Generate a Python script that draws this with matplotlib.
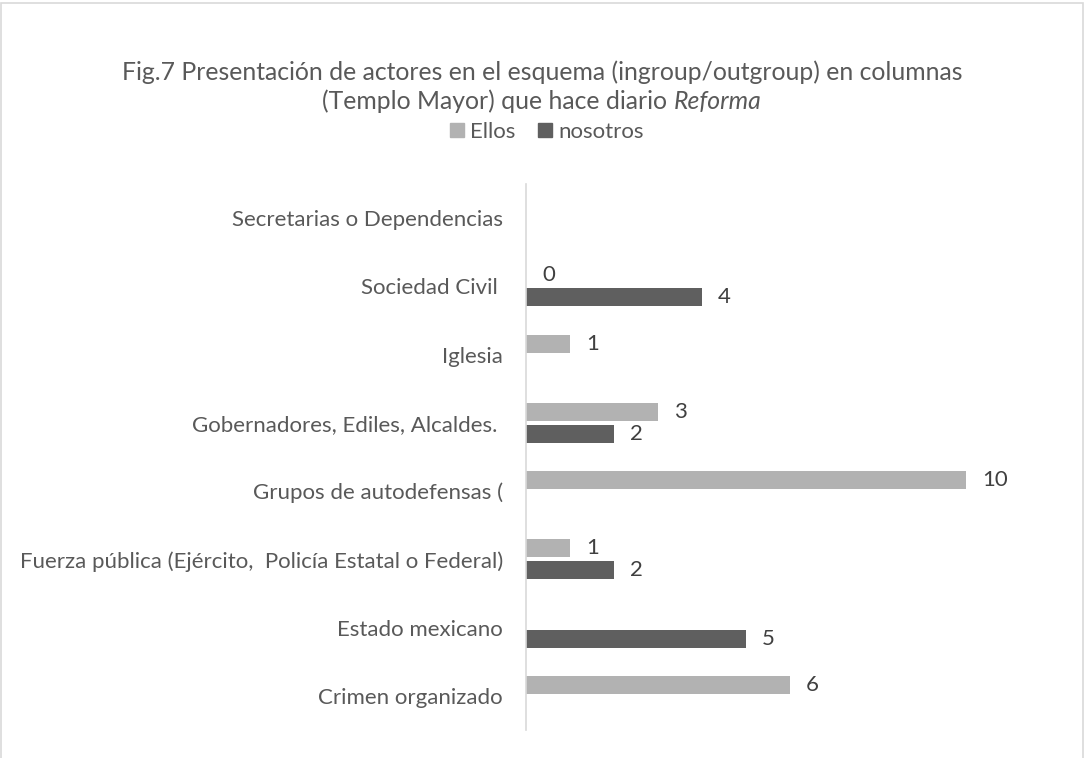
import matplotlib
matplotlib.use("Agg")
from matplotlib import pyplot as plt
from matplotlib.patches import Rectangle
from matplotlib.offsetbox import TextArea, HPacker, AnchoredOffsetbox

plt.rcParams['font.family'] = ['Lato', 'DejaVu Sans']

## data (bottom to top)
categories = ["Crimen organizado",
              "Estado mexicano",
              "Fuerza pública (Ejército,  Policía Estatal o Federal)",
              "Grupos de autodefensas (",
              "Gobernadores, Ediles, Alcaldes. ",
              "Iglesia",
              "Sociedad Civil ",
              "Secretarias o Dependencias"]
ellos = [6, None, 1, 10, 3, 1, 0, None]
nosotros = [None, 5, 2, None, 2, None, 4, None]

c_ellos = "#B2B2B2"
c_nos = "#5F5F5F"
txt = "#595959"
fs = 16

fig = plt.figure(figsize=(10.84, 7.58), dpi=100)
ax = fig.add_axes([526 / 1084, 1 - 730 / 758, 528 / 1084, 546 / 758])

off = 0.162
h = 0.265
for i in range(len(categories)):
    if ellos[i] is not None:
        ax.barh(i + off, ellos[i], height=h, color=c_ellos)
        ax.annotate(str(ellos[i]), (ellos[i], i + off), xytext=(11.5, 0),
                    textcoords="offset points", va="center", ha="left",
                    fontsize=fs, color="#404040")
    if nosotros[i] is not None:
        ax.barh(i - off, nosotros[i], height=h, color=c_nos)
        ax.annotate(str(nosotros[i]), (nosotros[i], i - off), xytext=(11.5, 0),
                    textcoords="offset points", va="center", ha="left",
                    fontsize=fs, color="#404040")

ax.set_xlim(0, 12)
ax.set_ylim(-0.5, len(categories) - 0.5)
ax.set_yticks(range(len(categories)))
ax.set_yticklabels(categories, fontsize=fs, color=txt)
ax.tick_params(axis="y", length=0, pad=16.5)
ax.set_xticks([])
for s in ["top", "right", "bottom"]:
    ax.spines[s].set_visible(False)
ax.spines["left"].set_color("#D9D9D9")
ax.spines["left"].set_linewidth(1.2)

## title
tfs = 17.8
fig.text(0.5, 1 - 72 / 758, "Fig.7 Presentación de actores en el esquema (ingroup/outgroup) en columnas",
         ha="center", va="center", fontsize=tfs, color=txt)
line2 = HPacker(children=[TextArea("(Templo Mayor) que hace diario",
                                   textprops=dict(fontsize=tfs, color=txt)),
                          TextArea("Reforma",
                                   textprops=dict(fontsize=tfs, color=txt, style="italic"))],
                sep=5, pad=0, align="baseline")
ab = AnchoredOffsetbox(loc="center", child=line2, frameon=False, pad=0,
                       bbox_to_anchor=(542 / 1084, 1 - 101 / 758),
                       bbox_transform=fig.transFigure, borderpad=0)
fig.add_artist(ab)

## legend
handles = [Rectangle((0, 0), 1, 1, color=c_ellos), Rectangle((0, 0), 1, 1, color=c_nos)]
fig.legend(handles, ["Ellos", "nosotros"], loc="center", ncol=2,
           bbox_to_anchor=(547 / 1084, 1 - 132 / 758), frameon=False,
           fontsize=fs, labelcolor=txt, handlelength=0.63, handleheight=0.63,
           handletextpad=0.3, columnspacing=1.0)

## outer border
fig.add_artist(Rectangle((1 / 1084, -0.01), 1082 / 1084, 1.01 - 3 / 758,
                         transform=fig.transFigure, fill=False,
                         edgecolor="#D9D9D9", linewidth=1.2))

fig.savefig("out.png", dpi=100)
